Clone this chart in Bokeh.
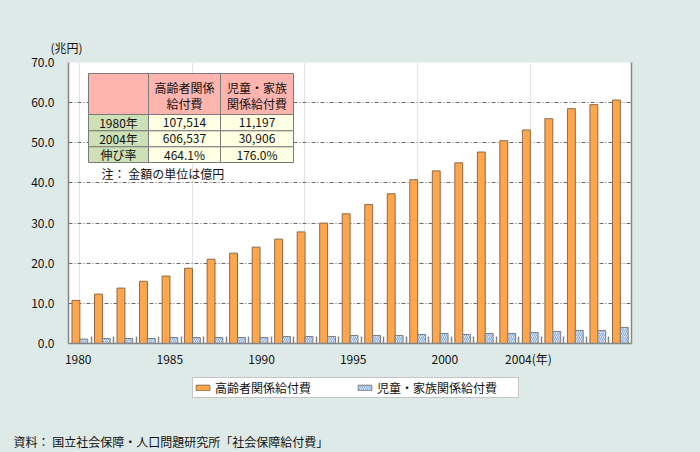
from bokeh.plotting import figure
from bokeh.layouts import column
from bokeh.models import (Range1d, LinearAxis, FixedTicker, NumeralTickFormatter,
                          Legend, LegendItem, Title, ColumnDataSource, Grid)
from bokeh.transform import dodge
from bokeh.core.properties import value
from bokeh.embed import file_html
from bokeh.resources import INLINE

# ---------------- data ----------------
years = list(range(1980, 2005))
elderly = [10.75, 12.3, 13.8, 15.5, 16.8, 18.75, 21.0, 22.5, 24.0, 26.0,
           27.8, 30.0, 32.3, 34.6, 37.3, 40.8, 43.0, 45.0, 47.7, 50.5,
           53.2, 56.0, 58.5, 59.5, 60.65]
child = [1.1, 1.25, 1.25, 1.25, 1.5, 1.5, 1.5, 1.5, 1.5, 1.75,
         1.75, 1.75, 2.0, 2.0, 2.0, 2.25, 2.5, 2.25, 2.5, 2.5,
         2.75, 3.0, 3.25, 3.25, 4.0]
series_names = ["高齢者関係給付費", "児童・家族関係給付費"]
y_ticks = [0, 10, 20, 30, 40, 50, 60, 70]
x_label_years = [1980, 1985, 1990, 1995, 2000, 2004]
unit_label = "(兆円)"
year_unit = "(年)"
table_header_elderly = ["高齢者関係", "給付費"]
table_header_child = ["児童・家族", "関係給付費"]
table_row_labels = ["1980年", "2004年", "伸び率"]
table_elderly = ["107,514", "606,537", "464.1%"]
table_child = ["11,197", "30,906", "176.0%"]
table_note = "注：  金額の単位は億円"
source_note = "資料：  国立社会保障・人口問題研究所「社会保障給付費」"

# ---------------- style ----------------
FONT = "Noto Sans CJK JP"
BG = "#DEEAE7"
ORANGE = "#FFA64D"
BLUE_FILL = "#D3E2F4"
BLUE_HATCH = "#86AADA"
AXIS = "#858585"
GRID = "#6a6a6a"
PINK = "#FFB4AE"
GREEN = "#CDE0B6"
YELLOW = "#FFFFE3"
TBL_LINE = "#7a7a7a"
TXT = "#111111"
ORANGE_STYLE = dict(fill_color=ORANGE, line_color="#8d6a47", line_width=1)
BLUE_STYLE = dict(fill_color=BLUE_FILL, hatch_pattern="/", hatch_color=BLUE_HATCH,
                  hatch_scale=4, hatch_weight=1, line_color="#7f7f7f", line_width=1)

p = figure(width=700, height=370, output_backend="svg", toolbar_location=None,
           x_range=Range1d(1979.5, 2004.5), y_range=Range1d(0, 70),
           x_axis_location=None,
           min_border_left=68, min_border_right=69, min_border_top=62, min_border_bottom=27,
           background_fill_color="white", border_fill_color=BG, outline_line_color=None)

# horizontal grid
p.ygrid.ticker = FixedTicker(ticks=y_ticks)
p.ygrid.grid_line_color = GRID
p.ygrid.grid_line_dash = "4 2 1 2"
p.ygrid.grid_line_width = 1

# short tick marks on the category boundaries (inside the frame)
boundaries = [y + 0.5 for y in years[:-1]]
tick_grid = Grid(dimension=0, ticker=FixedTicker(ticks=boundaries),
                 grid_line_color=AXIS, grid_line_width=1.5)
tick_grid.cross_bounds = (0, 1.75)
p.add_layout(tick_grid)

# bars
src = ColumnDataSource(dict(year=years, elderly=elderly, child=child))
p.vbar(x=dodge("year", -0.17), top="elderly", width=0.35, source=src, **ORANGE_STYLE)
p.vbar(x=dodge("year", 0.18), top="child", width=0.35, source=src, **BLUE_STYLE)

# y axis
yax = p.yaxis[0]
yax.ticker = FixedTicker(ticks=y_ticks)
yax.formatter = NumeralTickFormatter(format="0.0")
yax.major_tick_line_color = None
yax.minor_tick_line_color = None
yax.axis_line_color = AXIS
yax.axis_line_width = 1.5
yax.major_label_text_font = FONT
yax.major_label_text_font_size = "12px"
yax.major_label_text_color = TXT
yax.major_label_standoff = 8

# right border
rax = LinearAxis(major_tick_line_color=None, minor_tick_line_color=None,
                 axis_line_color=AXIS, axis_line_width=1.5)
rax.ticker = FixedTicker(ticks=[])
p.add_layout(rax, "right")

# x labels (spaced independently of the bars, as in the original)
p.extra_x_ranges = {"lbl": Range1d(1979.47, 2010.18), "tx": Range1d(0, 563)}
p.extra_y_ranges = {"ty": Range1d(281, 0)}
last = x_label_years[-1]
label_ticks = x_label_years[:-1] + [last + 0.56]
lax = LinearAxis(x_range_name="lbl", ticker=FixedTicker(ticks=label_ticks),
                 axis_line_color=AXIS, axis_line_width=1.5,
                 major_tick_line_color=None, minor_tick_line_color=None,
                 major_tick_in=0, major_tick_out=0, major_label_standoff=6,
                 major_label_text_font=FONT, major_label_text_font_size="12px",
                 major_label_text_color=TXT)
lax.major_label_overrides = {last + 0.56: f"{last}{year_unit}"}
p.add_layout(lax, "below")

# ---------------- table (layout in frame pixels) ----------------
col_edges = [20, 80, 152, 225]
row_edges = [11, 52, 68.3, 84.3, 100]
tl, tr, tb, tt, tc = [], [], [], [], []
for ri in range(4):
    for ci in range(3):
        tl.append(col_edges[ci]); tr.append(col_edges[ci + 1])
        tt.append(row_edges[ri]); tb.append(row_edges[ri + 1])
        if ri == 0:
            tc.append(PINK)
        elif ci == 0:
            tc.append(GREEN)
        else:
            tc.append(YELLOW)
p.quad(left=tl, right=tr, top=tt, bottom=tb, fill_color=tc, line_color=TBL_LINE,
       line_width=1, x_range_name="tx", y_range_name="ty")

col_centers = [(col_edges[i] + col_edges[i + 1]) / 2 for i in range(3)]
row_centers = [(row_edges[i] + row_edges[i + 1]) / 2 for i in range(1, 4)]
hx, hy, ht = [], [], []
for line_i, yy in enumerate([24.5, 40.5]):
    hx += [col_centers[1], col_centers[2]]
    hy += [yy, yy]
    ht += [table_header_elderly[line_i], table_header_child[line_i]]
for i in range(3):
    hx += col_centers
    hy += [row_centers[i]] * 3
    ht += [table_row_labels[i], table_elderly[i], table_child[i]]
p.text(x=hx, y=hy, text=ht, text_align="center", text_baseline="middle",
       text_font=value(FONT), text_font_size="12px", text_color=TXT,
       x_range_name="tx", y_range_name="ty")
p.text(x=[33], y=[110.5], text=[table_note], text_align="left", text_baseline="middle",
       text_font=value(FONT), text_font_size="12px", text_color=TXT,
       x_range_name="tx", y_range_name="ty")

# unit label
p.add_layout(Title(text=unit_label, align="left", offset=-18, standoff=13,
                   text_font=FONT, text_font_size="12px", text_font_style="normal",
                   text_color=TXT), "above")

# ---------------- footer strip: legend + source ----------------
f = figure(width=700, height=82, output_backend="svg", toolbar_location=None,
           x_range=Range1d(0, 1), y_range=Range1d(0, 1),
           x_axis_location=None, y_axis_location=None,
           min_border_left=68, min_border_right=69, min_border_top=0, min_border_bottom=24,
           background_fill_color=BG, border_fill_color=BG, outline_line_color=None)
f.xgrid.visible = False
f.ygrid.visible = False
lr1 = f.vbar(x=dodge("year", -0.17), top="elderly", width=0.35, source=src,
             visible=False, **ORANGE_STYLE)
lr2 = f.vbar(x=dodge("year", 0.18), top="child", width=0.35, source=src,
             visible=False, **BLUE_STYLE)
legend = Legend(items=[LegendItem(label=series_names[0], renderers=[lr1]),
                       LegendItem(label=series_names[1], renderers=[lr2])],
                orientation="horizontal", location=(124, 30),
                padding=1, spacing=1, margin=0, label_width=140, label_standoff=4,
                glyph_width=17, glyph_height=7, label_height=9,
                label_text_font=FONT, label_text_font_size="12px", label_text_color=TXT,
                border_line_color="#8a8a8a", border_line_width=1,
                background_fill_color="white", background_fill_alpha=1,
                inactive_fill_alpha=0)
f.add_layout(legend, "center")
f.add_layout(Title(text=source_note, align="left", offset=-55, standoff=4,
                   text_font=FONT, text_font_size="12px", text_font_style="normal",
                   text_color=TXT), "below")

layout = column(p, f, spacing=0, styles={"background-color": BG})
open("out.html", "w").write(file_html(layout, INLINE))
